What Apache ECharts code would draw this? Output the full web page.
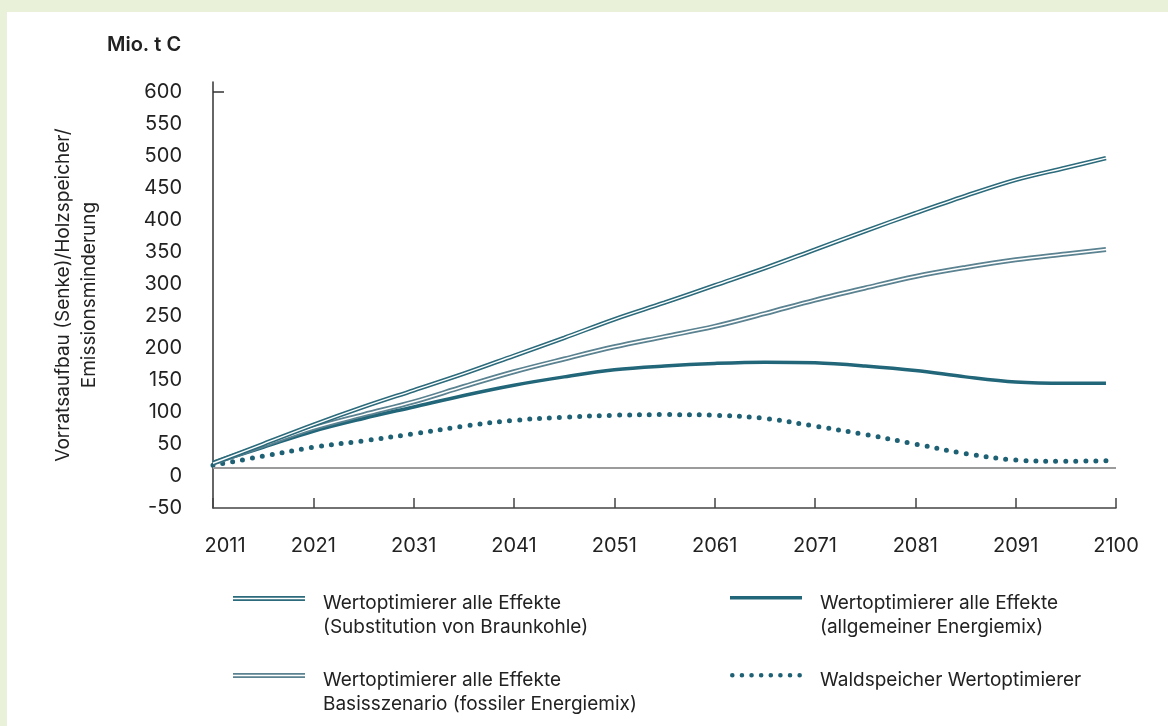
<!DOCTYPE html>
<html>
<head>
<meta charset="utf-8">
<script src="https://cdn.jsdelivr.net/npm/echarts@6/dist/echarts.min.js"></script>
<style>
  html, body { margin: 0; padding: 0; background: #fff; }
  #chart {
    width: 1168px; height: 726px;
    background:
      linear-gradient(#e9f2d8, #e9f2d8) left top / 100% 12px no-repeat,
      linear-gradient(#e9f2d8, #e9f2d8) left top / 7px 100% no-repeat,
      #fff;
  }
</style>
</head>
<body>
<div id="chart"></div>
<script>
// Kohlenstoff: Vorratsaufbau / Holzspeicher / Emissionsminderung (Mio. t C)
const startYear = 2011;
const years = [2011, 2016, 2021, 2026, 2031, 2036, 2041, 2046, 2051, 2056, 2061, 2066, 2071, 2076, 2081, 2086, 2091, 2096, 2100];

const braunkohle    = [20, 50, 80, 108, 134, 160, 188, 216, 245, 271, 298, 325, 354, 383, 411, 438, 463, 482, 497];
const basisszenario = [20, 48, 75, 96, 116, 140, 163, 183, 202, 218, 234, 254, 275, 294, 312, 326, 338, 347, 354];
const energiemix    = [20, 45, 70, 90, 108, 126, 142, 155, 166, 172, 176, 178, 177, 172, 165, 155, 147, 145, 145];
const waldspeicher  = [17, 31, 45, 55, 66, 78, 87, 92, 95, 96, 95, 90, 78, 65, 50, 35, 25, 23, 24];

const xTickLabels = ['2011', '2021', '2031', '2041', '2051', '2061', '2071', '2081', '2091', '2100'];
const yTickValues = [-50, 0, 50, 100, 150, 200, 250, 300, 350, 400, 450, 500, 550, 600];
const nullLinie = 12.5;

const names = [
  'Wertoptimierer alle Effekte\n(Substitution von Braunkohle)',
  'Wertoptimierer alle Effekte\nBasisszenario (fossiler Energiemix)',
  'Wertoptimierer alle Effekte\n(allgemeiner Energiemix)',
  'Waldspeicher Wertoptimierer'
];

const FONT = 'Inter, "Liberation Sans", Arial, sans-serif';
const TEXT = '#222';
const C_BRAUN = '#2c6b7c';
const C_BASIS = '#5a8290';
const C_MIX = '#22667a';
const C_WALD = '#1f6174';
const SMOOTH = 0.35;

function pairs(values) {
  return years.map((y, i) => [y - startYear, values[i]]);
}

// legend keys: the bar sits at the top of a taller box so it lines up with the first text line
const pad = ' M85,38h0.01v0.01h-0.01Z';
const iconDoubleA = 'path://M0,0H72V1.8H0Z M0,3.2H72V5H0Z' + pad;
const iconDoubleB = 'path://M0,0H72V1.7H0Z M0,3.3H72V5H0Z' + pad;
const iconSolid = 'path://M0,0.8H72V4.2H0Z' + pad;
let dots = '';
for (let i = 0; i < 8; i++) {
  const cx = 2.5 + i * 9.6;
  dots += ` M${cx - 2.3},2.5a2.3,2.3 0 1,0 4.6,0a2.3,2.3 0 1,0 -4.6,0Z`;
}
const iconDots = 'path://' + dots.trim() + pad;

const legendCommon = {
  orient: 'vertical',
  top: 591,
  padding: 0,
  itemGap: 29,
  itemWidth: 85,
  itemHeight: 38,
  symbolKeepAspect: false,
  selectedMode: false,
  itemStyle: { borderWidth: 0 },
  // single-line entries keep an empty second line so every entry has the same height
  formatter: name => (name.indexOf('\n') >= 0 ? name : name + '\n '),
  textStyle: { fontFamily: FONT, fontSize: 19, lineHeight: 24, color: TEXT }
};

const chart = echarts.init(document.getElementById('chart'), null, { renderer: 'canvas' });

const lineBase = { type: 'line', smooth: SMOOTH, symbol: 'none', showSymbol: false };

chart.setOption({
  backgroundColor: 'transparent',
  animation: false,
  title: {
    text: 'Mio. t C',
    left: 107, top: 35, padding: 0,
    textStyle: { fontFamily: FONT, fontSize: 20, fontWeight: 600, color: TEXT }
  },
  legend: [
    Object.assign({}, legendCommon, {
      left: 233,
      data: [{ name: names[0], icon: iconDoubleA }, { name: names[1], icon: iconDoubleB }]
    }),
    Object.assign({}, legendCommon, {
      left: 730,
      data: [{ name: names[2], icon: iconSolid }, { name: names[3], icon: iconDots }]
    })
  ],
  grid: { left: 213, right: 52, top: 82, bottom: 218 },
  xAxis: {
    type: 'value',
    min: 0, max: 90, interval: 10,
    axisLine: { onZero: false, lineStyle: { color: '#444', width: 1.5 } },
    axisTick: { inside: true, length: 10, lineStyle: { color: '#444', width: 1.5 } },
    splitLine: { show: false },
    axisLabel: {
      margin: 28,
      fontFamily: FONT, fontSize: 20, color: TEXT,
      formatter: v => {
        const t = xTickLabels[Math.round(v / 10)];
        return v === 0 ? '{first|' + t + '}' : t;
      },
      rich: {
        first: { fontFamily: FONT, fontSize: 20, color: TEXT, padding: [0, 0, 0, 24] }
      }
    }
  },
  yAxis: {
    type: 'value',
    min: -50, max: 616,
    name: 'Vorratsaufbau (Senke)/Holzspeicher/\nEmissionsminderung',
    nameLocation: 'middle',
    nameRotate: 90,
    nameGap: 111,
    nameTextStyle: { fontFamily: FONT, fontSize: 19, lineHeight: 26, color: TEXT, align: 'center' },
    axisLine: { show: true, onZero: false, lineStyle: { color: '#333', width: 1.5 } },
    axisTick: { show: true, inside: true, length: 11, customValues: [600], lineStyle: { color: '#333', width: 1.5 } },
    axisLabel: { margin: 31, fontFamily: FONT, fontSize: 20, color: TEXT, customValues: yTickValues },
    splitLine: { show: false }
  },
  series: [
    {
      type: 'line', name: 'Nulllinie', data: [], silent: true,
      markLine: {
        silent: true, symbol: 'none', label: { show: false },
        lineStyle: { color: '#9b9b9b', width: 2, type: 'solid' },
        data: [{ yAxis: nullLinie }]
      },
      z: 1
    },
    Object.assign({}, lineBase, {
      name: names[3], data: pairs(waldspeicher),
      itemStyle: { color: C_WALD },
      lineStyle: { color: C_WALD, width: 5, type: [0, 10], cap: 'round' },
      z: 2
    }),
    Object.assign({}, lineBase, {
      name: names[2], data: pairs(energiemix),
      itemStyle: { color: C_MIX },
      lineStyle: { color: C_MIX, width: 3.5 },
      z: 3
    }),
    Object.assign({}, lineBase, {
      name: names[1], data: pairs(basisszenario),
      itemStyle: { color: C_BASIS },
      lineStyle: { color: C_BASIS, width: 5 },
      z: 4
    }),
    Object.assign({}, lineBase, {
      name: names[1], data: pairs(basisszenario),
      itemStyle: { color: '#ffffff' },
      lineStyle: { color: '#ffffff', width: 1.5 },
      z: 5
    }),
    Object.assign({}, lineBase, {
      name: names[0], data: pairs(braunkohle),
      itemStyle: { color: C_BRAUN },
      lineStyle: { color: C_BRAUN, width: 4.5 },
      z: 6
    }),
    Object.assign({}, lineBase, {
      name: names[0], data: pairs(braunkohle),
      itemStyle: { color: '#ffffff' },
      lineStyle: { color: '#ffffff', width: 1.4 },
      z: 7
    })
  ]
});
</script>
</body>
</html>
